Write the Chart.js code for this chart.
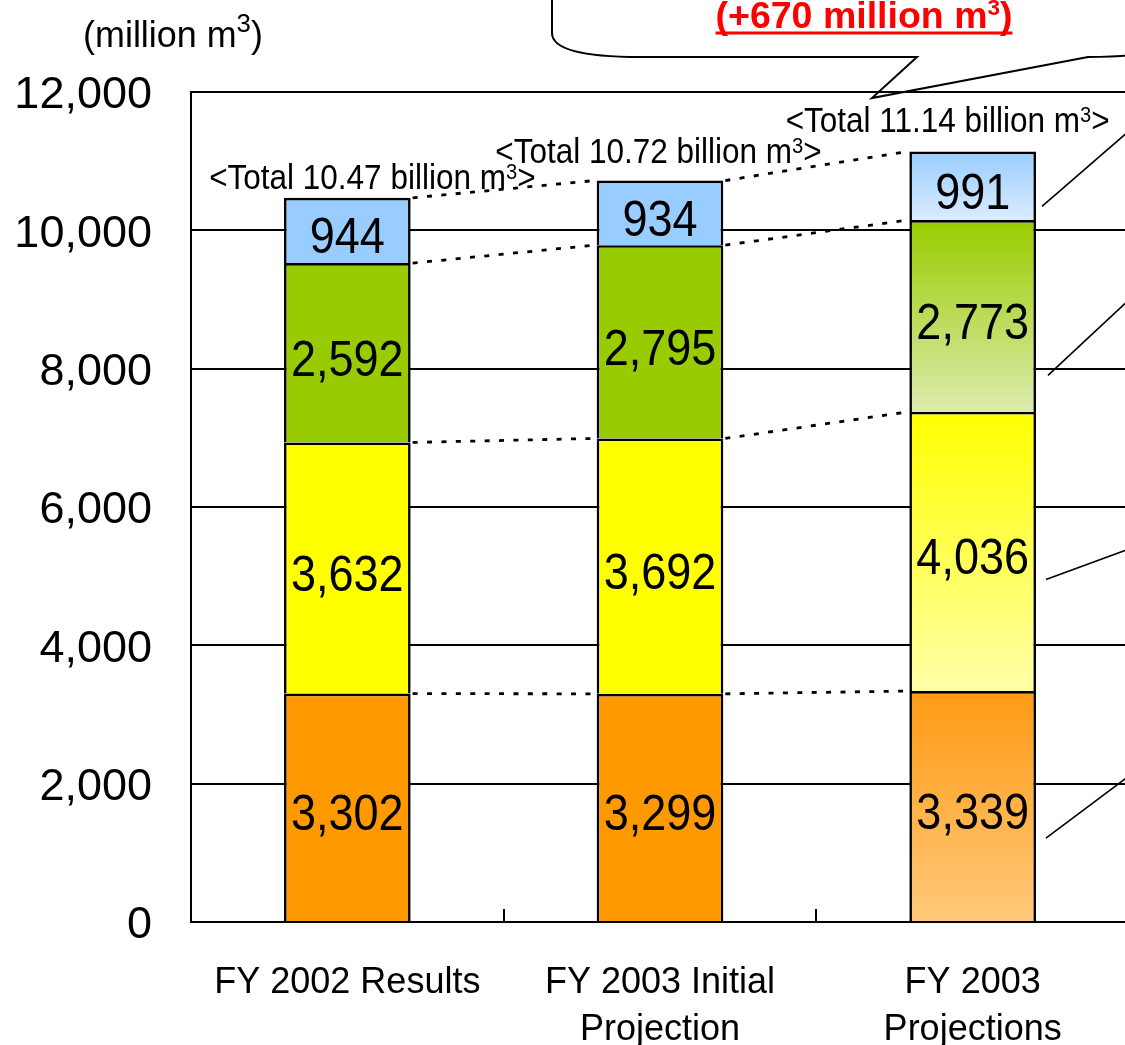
<!DOCTYPE html>
<html>
<head>
<meta charset="utf-8">
<script src="https://cdn.jsdelivr.net/npm/chart.js@4.4.1/dist/chart.umd.min.js"></script>
<style>
  html, body { margin: 0; padding: 0; background: #fff; overflow: hidden; }
  #wrap { position: relative; width: 1160px; height: 1045px; }
</style>
</head>
<body>
<div id="wrap"><canvas id="chart"></canvas></div>
<script>
// ---- data ----
const categories = [['FY 2002 Results'], ['FY 2003 Initial', 'Projection'], ['FY 2003', 'Projections']];
const seriesNames = ['Series 1', 'Series 2', 'Series 3', 'Series 4'];
const series1 = [3302, 3299, 3339];   // bottom layer
const series2 = [3632, 3692, 4036];
const series3 = [2592, 2795, 2773];
const series4 = [944, 934, 991];      // top layer
const totalLabels = ['<Total 10.47 billion m³>', '<Total 10.72 billion m³>', '<Total 11.14 billion m³>'];
const yTicks = [0, 2000, 4000, 6000, 8000, 10000, 12000];
const yTickLabels = ['0', '2,000', '4,000', '6,000', '8,000', '10,000', '12,000'];
const unitLabel = '(million m³)';
const calloutText = '(+670 million m³)';

// ---- styles ----
const allSeries = [series1, series2, series3, series4];
const solidFill = ['#FF9900', '#FFFF00', '#99CC00', '#99CCFF'];
// top -> bottom gradient used for the projection column
const gradFill = [['#FF9A12', '#FFC97C'], ['#FFFF00', '#FFFFA8'], ['#99CC00', '#DDEBAE'], ['#99CCFF', '#DAECFF']];
const gradIndex = 2;
const FONT = '"Liberation Sans", Arial, Helvetica, sans-serif';

function hasFont(name) {
  const c = document.createElement('canvas').getContext('2d');
  c.font = '40px monospace';
  const a = c.measureText('FY 2003 Initial Projections').width;
  c.font = '40px "' + name + '", monospace';
  const b = c.measureText('FY 2003 Initial Projections').width;
  return a !== b;
}
const narrowOK = hasFont('Liberation Sans Narrow');
const catFont = narrowOK
  ? { family: '"Liberation Sans Narrow", ' + FONT, size: 42, lineHeight: 1.12 }
  : { family: FONT, size: 36, lineHeight: 1.3 };

function fillFor(si) {
  return (ctx) => {
    if (ctx.type !== 'data' || ctx.dataIndex !== gradIndex) return solidFill[si];
    const chart = ctx.chart, ys = chart.scales.y;
    if (!ys || !chart.chartArea) return solidFill[si];
    let base = 0;
    for (let k = 0; k < si; k++) base += allSeries[k][gradIndex];
    const top = base + allSeries[si][gradIndex];
    const g = chart.ctx.createLinearGradient(0, ys.getPixelForValue(top), 0, ys.getPixelForValue(base));
    g.addColorStop(0, gradFill[si][0]);
    g.addColorStop(1, gradFill[si][1]);
    return g;
  };
}

// text with "³" drawn as a raised small 3, optionally condensed horizontally
function drawRich(ctx, text, x, y, o) {
  const size = o.size, weight = o.weight || 'normal', sx = o.sx || 1;
  const supScale = o.supScale || 0.6, rise = (o.supRise || 0.3) * size;
  const parts = [];
  let buf = '';
  for (const ch of text) {
    if (ch === '³') { if (buf) parts.push({ t: buf, sup: false }); parts.push({ t: '3', sup: true }); buf = ''; }
    else buf += ch;
  }
  if (buf) parts.push({ t: buf, sup: false });
  let w = 0;
  for (const p of parts) {
    ctx.font = weight + ' ' + (p.sup ? size * supScale : size) + 'px ' + FONT;
    p.w = ctx.measureText(p.t).width;
    w += p.w;
  }
  const total = w * sx;
  const left = o.align === 'left' ? x : x - total / 2;
  ctx.save();
  ctx.fillStyle = o.color || '#000';
  ctx.textBaseline = 'alphabetic';
  ctx.textAlign = 'left';
  ctx.translate(left, y);
  ctx.scale(sx, 1);
  let cx = 0;
  for (const p of parts) {
    ctx.font = weight + ' ' + (p.sup ? size * supScale : size) + 'px ' + FONT;
    ctx.fillText(p.t, cx, p.sup ? -rise : 0);
    cx += p.w;
  }
  ctx.restore();
  return { left, width: total };
}

// total label offsets from each column's top-centre (px)
const totalOffsets = [[25, -9], [-1.5, -18], [-25, -20]];
// leader lines from the projection column: series, fraction up the segment, start dx, end dx, end dy
const leaders = [[3, 0.2, 6, 120, -104], [2, 0.19, 12, 120, -112], [1, 0.4, 10, 120, -44], [0, 0.36, 10, 120, -90]];

const overlay = {
  id: 'overlay',
  afterDatasetsDraw(chart) {
    const ctx = chart.ctx, area = chart.chartArea;
    const metas = allSeries.map((_, si) => chart.getDatasetMeta(si));
    const bar = (si, i) => metas[si].data[i].getProps(['x', 'y', 'base', 'width'], true);

    // dotted connectors between neighbouring columns
    ctx.save();
    ctx.strokeStyle = '#000';
    ctx.lineWidth = 2.8;
    ctx.setLineDash([5, 9.4]);
    for (let si = 0; si < allSeries.length; si++) {
      for (let i = 0; i < categories.length - 1; i++) {
        const a = bar(si, i), b = bar(si, i + 1);
        ctx.beginPath();
        ctx.moveTo(a.x + a.width / 2 + 2, a.y);
        ctx.lineTo(b.x - b.width / 2 - 2, b.y);
        ctx.stroke();
      }
    }
    ctx.restore();

    // segment values
    for (let si = 0; si < allSeries.length; si++) {
      for (let i = 0; i < categories.length; i++) {
        const p = bar(si, i);
        const c = (p.y + p.base) / 2;
        drawRich(ctx, allSeries[si][i].toLocaleString('en-US'), p.x, c + 23, { size: 50, sx: 0.9 });
      }
    }

    // column totals
    const topSi = allSeries.length - 1;
    for (let i = 0; i < categories.length; i++) {
      const p = bar(topSi, i);
      drawRich(ctx, totalLabels[i], p.x + totalOffsets[i][0], p.y + totalOffsets[i][1],
        { size: 35, sx: 0.9, supScale: 0.64, supRise: 0.28 });
    }

    // leader lines
    ctx.save();
    ctx.strokeStyle = '#000';
    ctx.lineWidth = 1.6;
    for (const [si, f, dx0, dx1, dy] of leaders) {
      const p = bar(si, gradIndex);
      const y0 = p.base - (p.base - p.y) * f;
      const x0 = p.x + p.width / 2 + dx0;
      ctx.beginPath();
      ctx.moveTo(x0, y0);
      ctx.lineTo(x0 + dx1, y0 + dy);
      ctx.stroke();
    }
    ctx.restore();

    // inside tick marks at category boundaries
    const xs = chart.scales.x;
    ctx.save();
    ctx.strokeStyle = '#000';
    ctx.lineWidth = 2;
    for (let i = 0; i < categories.length - 1; i++) {
      const bx = Math.round((xs.getPixelForValue(i) + xs.getPixelForValue(i + 1)) / 2);
      ctx.beginPath();
      ctx.moveTo(bx, area.bottom);
      ctx.lineTo(bx, area.bottom - 13);
      ctx.stroke();
    }
    ctx.restore();

    // unit label
    drawRich(ctx, unitLabel, 173, 47, { size: 37, sx: 0.97, supScale: 0.72, supRise: 0.4 });

    // callout balloon
    ctx.save();
    ctx.strokeStyle = '#000';
    ctx.lineWidth = 2;
    ctx.beginPath();
    ctx.moveTo(552, -10);
    ctx.lineTo(552, 33);
    ctx.quadraticCurveTo(552, 57, 640, 57);
    ctx.lineTo(917, 57);
    ctx.lineTo(872, 98);
    ctx.lineTo(1088, 57);
    ctx.quadraticCurveTo(1180, 57, 1180, 33);
    ctx.stroke();
    ctx.restore();

    const r = drawRich(ctx, calloutText, 864, 28, { size: 37.5, weight: 'bold', color: '#FF0000', supScale: 0.6, supRise: 0.36 });
    ctx.save();
    ctx.strokeStyle = '#FF0000';
    ctx.lineWidth = 3;
    ctx.beginPath();
    ctx.moveTo(r.left, 33);
    ctx.lineTo(r.left + r.width, 33);
    ctx.stroke();
    ctx.restore();
  }
};

const PLOT_LEFT = 191, PLOT_TOP = 92, PLOT_BOTTOM = 922, PLOT_RIGHT = 1129;

new Chart(document.getElementById('chart'), {
  type: 'bar',
  data: {
    labels: categories,
    datasets: allSeries.map((d, si) => ({
      label: seriesNames[si],
      data: d,
      backgroundColor: fillFor(si),
      borderColor: '#000',
      borderWidth: 2.6,
      categoryPercentage: 1,
      barPercentage: 0.405
    }))
  },
  options: {
    responsive: true,
    maintainAspectRatio: false,
    animation: false,
    events: [],
    layout: { padding: { left: 0, top: PLOT_TOP, right: 1160 - PLOT_RIGHT, bottom: 0 } },
    plugins: { legend: { display: false }, tooltip: { enabled: false }, title: { display: false } },
    scales: {
      x: {
        stacked: true,
        grid: { display: false },
        border: { display: false },
        ticks: { color: '#000', font: catFont, padding: 30, maxRotation: 0, autoSkip: false },
        afterFit: (s) => { s.height = 1045 - PLOT_BOTTOM; }
      },
      y: {
        stacked: true,
        min: 0,
        max: 12000,
        afterBuildTicks: (s) => { s.ticks = yTicks.map(v => ({ value: v })); },
        ticks: {
          color: '#000',
          font: { family: FONT, size: 45 },
          padding: 39,
          labelOffset: 4,
          callback: (v) => { const k = yTicks.indexOf(v); return k >= 0 ? yTickLabels[k] : ''; }
        },
        grid: { color: '#000', lineWidth: 2, drawTicks: false },
        border: { display: true, color: '#000', width: 2 },
        afterFit: (s) => { s.width = PLOT_LEFT; }
      }
    }
  },
  plugins: [overlay]
});
</script>
</body>
</html>
